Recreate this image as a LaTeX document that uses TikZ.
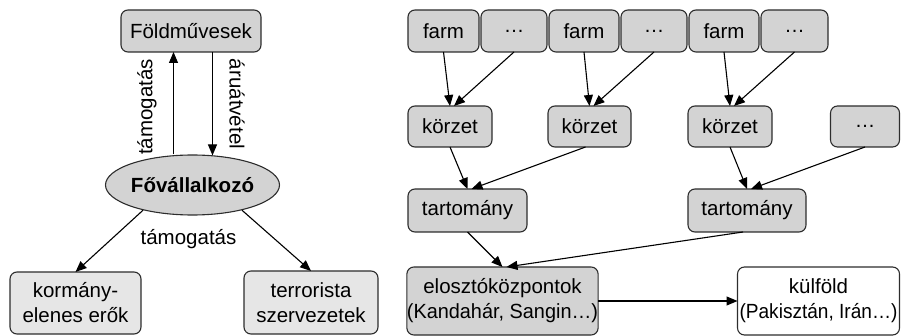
\documentclass[tikz,border=0pt]{standalone}
\usepackage{fontspec}
\setmainfont{Liberation Sans}
\usetikzlibrary{arrows.meta,shapes.geometric,calc}
\definecolor{boxfill}{RGB}{211,211,211}
\definecolor{lightfill}{RGB}{230,230,230}
\definecolor{boxborder}{RGB}{45,45,45}
\newcommand{\fsz}{\fontsize{20.5}{25}\selectfont}
\begin{document}
\begin{tikzpicture}[x=1pt,y=-1pt,
  box/.style={draw=boxborder, fill=boxfill, rounded corners=7pt, line width=1.1pt,
    inner sep=0pt, outer sep=0pt, align=center, font=\fsz},
  lbox/.style={box, fill=lightfill},
  wbox/.style={box, fill=white},
  arr/.style={-{Triangle[length=11pt,width=9pt]}, line width=1.1pt, draw=black},
  lab/.style={font=\fsz, inner sep=0pt}
]
\path[use as bounding box] (0,0) rectangle (901,336);

% left part
\node[box, minimum width=140, minimum height=42] (f) at (191,31) {Földművesek};
\node[ellipse, draw=boxborder, fill=boxfill, line width=1.1pt, minimum width=131, minimum height=60,
  inner sep=0pt, font=\fsz\bfseries] (e) at (192.5,185) {Fővállalkozó};
\node[lbox, minimum width=131, minimum height=62] (k) at (75.5,303) {kormány-\\elenes erők};
\node[lbox, minimum width=134, minimum height=63] (t) at (311,302.5) {terrorista\\szervezetek};

\draw[arr] ([xshift=-19]e.north) -- ([xshift=-19]e.north |- f.south);
\draw[arr] ([xshift=20]e.north |- f.south) -- ([xshift=20,yshift=-1]e.north);
\node[lab, rotate=90] (l1) at (147,107) {támogatás};
\node[lab, rotate=-90] (l2) at (237,104) {áruátvétel};
\draw[arr] (e.-153) -- (k.north);
\draw[arr] (e.-27) -- (t.north);
\node[lab] (l3) at (188.5,239) {támogatás};

% right part
\node[box, minimum width=71, minimum height=42] (f1) at (443.5,31) {farm};
\node[box, minimum width=66, minimum height=42] (d1) at (514,31) {…};
\node[box, minimum width=70, minimum height=42] (f2) at (584,31) {farm};
\node[box, minimum width=66, minimum height=42] (d2) at (654,31) {…};
\node[box, minimum width=70, minimum height=42] (f3) at (724,31) {farm};
\node[box, minimum width=67, minimum height=42] (d3) at (794.5,31) {…};

\node[box, minimum width=84, minimum height=41] (k1) at (450,126.5) {körzet};
\node[box, minimum width=83, minimum height=41] (k2) at (589.5,126.5) {körzet};
\node[box, minimum width=84, minimum height=41] (k3) at (730,126.5) {körzet};
\node[box, minimum width=69, minimum height=41] (k4) at (865,126.5) {…};

\node[box, minimum width=119, minimum height=43] (t1) at (467.5,210.5) {tartomány};
\node[box, minimum width=118, minimum height=43] (t2) at (747,210.5) {tartomány};

\node[box, minimum width=189, minimum height=68] (el) at (502.5,301) {elosztóközpontok\\\scalebox{0.97}[1]{(Kandahár, Sangin…)}};
\node[wbox, minimum width=162, minimum height=68] (ku) at (818.5,301) {külföld\\\scalebox{0.93}[1]{(Pakisztán, Irán…)}};

\draw[arr] (f1.south) -- (k1.north);
\draw[arr] (d1.south) -- ([xshift=4]k1.north);
\draw[arr] (f2.south) -- (k2.north);
\draw[arr] (d2.south) -- ([xshift=4]k2.north);
\draw[arr] (f3.south) -- (k3.north);
\draw[arr] (d3.south) -- ([xshift=4]k3.north);

\draw[arr] (k1.south) -- (t1.north);
\draw[arr] ([xshift=-4]k2.south) -- ([xshift=4]t1.north);
\draw[arr] (k3.south) -- (t2.north);
\draw[arr] (k4.south) -- ([xshift=4]t2.north);

\draw[arr] (t1.south) -- (el.north);
\draw[arr] ([xshift=-4]t2.south) -- ([xshift=4]el.north);
\draw[arr] (el.east) -- (ku.west);
\end{tikzpicture}
\end{document}
